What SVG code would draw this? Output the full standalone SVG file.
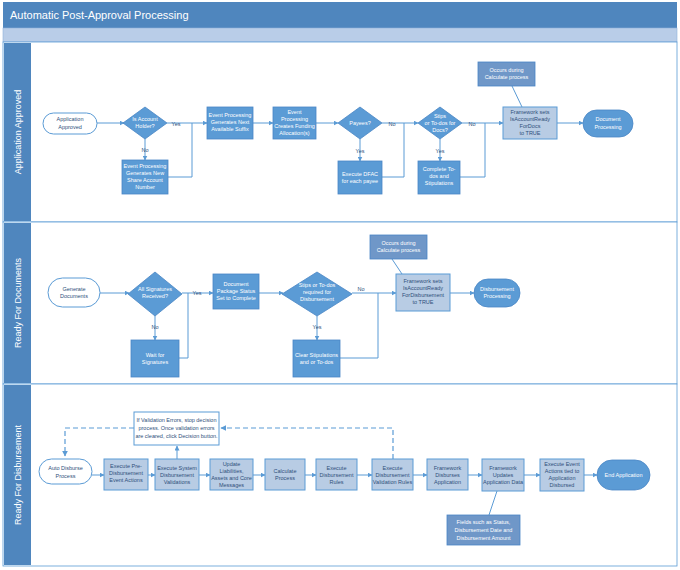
<svg xmlns="http://www.w3.org/2000/svg" width="680" height="570" viewBox="0 0 680 570">
<defs>
<marker id="a" viewBox="0 0 10 10" refX="9" refY="5" markerWidth="5" markerHeight="5" orient="auto"><path d="M0,0L10,5L0,10z" fill="#5b9bd5"/></marker>
<style>
text{font-family:"Liberation Sans",Arial,sans-serif;font-size:5.5px;text-anchor:middle}
.w{fill:#fff}.d{fill:#2f4f7a}
.b{fill:#5b9bd5;stroke:#4a86c5;stroke-width:0.8}
.l{fill:#b8cce4;stroke:#5b9bd5;stroke-width:1}
.m{fill:#6f97c8;stroke:#4a86c5;stroke-width:0.8}
.o{fill:#fff;stroke:#5b9bd5;stroke-width:1}
.c{fill:none;stroke:#5b9bd5;stroke-width:1}
.ca{fill:none;stroke:#5b9bd5;stroke-width:1;marker-end:url(#a)}
.dash{fill:none;stroke:#5b9bd5;stroke-width:1.2;stroke-dasharray:5,3}
.lane{fill:#fff;stroke:#5b9bd5;stroke-width:0.8}
.lt{font-size:9px;fill:#fff}
</style>
</defs>
<rect x="3" y="2" width="674" height="26" fill="#4f86be"/>
<text x="10" y="19" style="text-anchor:start;font-size:11px;fill:#fff">Automatic Post-Approval Processing</text>
<rect x="3" y="28" width="674" height="14" fill="#b9cde8" stroke="#8eb1da" stroke-width="0.6"/>
<rect x="3" y="42" width="674" height="180" class="lane"/>
<rect x="3" y="222" width="674" height="162" class="lane"/>
<rect x="3" y="384" width="674" height="182" class="lane"/>
<rect x="4" y="43" width="27" height="178" fill="#4f86be"/>
<rect x="4" y="223" width="27" height="160" fill="#4f86be"/>
<rect x="4" y="385" width="27" height="180" fill="#4f86be"/>
<text class="lt" transform="translate(21,132) rotate(-90)">Application Approved</text>
<text class="lt" transform="translate(21,303) rotate(-90)">Ready For Documents</text>
<text class="lt" transform="translate(21,475) rotate(-90)">Ready For Disbursement</text>

<g id="connectors">
<path class="ca" d="M97,123H124"/>
<path class="ca" d="M167,123H207"/>
<path class="ca" d="M145,139V160"/>
<path class="c" d="M168,177H192V123"/>
<path class="ca" d="M253,123H273"/>
<path class="ca" d="M316,123H338"/>
<path class="ca" d="M382,123H418"/>
<path class="ca" d="M360,139V161"/>
<path class="c" d="M382,177H404V123"/>
<path class="ca" d="M462,123H503"/>
<path class="ca" d="M440,139V161"/>
<path class="c" d="M460,177H485V123"/>
<path class="ca" d="M557,123H583"/>
<path class="c" d="M512,86L522,107"/>
<path class="ca" d="M100,293H129"/>
<path class="ca" d="M182,293H213"/>
<path class="ca" d="M155,316V340"/>
<path class="c" d="M179,358H188V293"/>
<path class="ca" d="M259,293H283"/>
<path class="ca" d="M352,293H396"/>
<path class="ca" d="M317,316V340"/>
<path class="c" d="M340,358H378V293"/>
<path class="ca" d="M450,293H474"/>
<path class="c" d="M392,259L402,274"/>
<path class="ca" d="M92,475H104"/>
<path class="ca" d="M148,475H155"/>
<path class="ca" d="M199,475H210"/>
<path class="ca" d="M253,475H265"/>
<path class="ca" d="M305,475H316"/>
<path class="ca" d="M357,475H372"/>
<path class="ca" d="M413,475H427"/>
<path class="ca" d="M468,475H482"/>
<path class="ca" d="M524,475H540"/>
<path class="ca" d="M584,475H597"/>
<path class="ca" d="M177,459V446"/>
<path class="dash" d="M134,428H65V456" marker-end="url(#a)"/>
<path class="dash" d="M393,459V428H221" marker-end="url(#a)"/>
<path class="c" d="M497,491L489,515"/>
</g>
<g>
<text x="176" y="126" class="d">Yes</text><text x="145" y="152" class="d">No</text>
<text x="392" y="126" class="d">No</text><text x="360" y="153" class="d">Yes</text>
<text x="472" y="126" class="d">No</text><text x="440" y="153" class="d">Yes</text>
<text x="197" y="295" class="d">Yes</text><text x="155" y="329" class="d">No</text>
<text x="361" y="291" class="d">No</text><text x="317" y="329" class="d">Yes</text>
</g>

<g id="n1"><rect x="43" y="113" width="54" height="21" rx="10.5" class="o"/><text x="70" y="121" class="d">Application</text><text x="70" y="129" class="d">Approved</text></g>
<g id="n2"><path d="M145,107L167,123L145,139L123,123z" class="b"/><text x="145" y="121" class="w">Is Account</text><text x="145" y="128" class="w">Holder?</text></g>
<g id="n3"><rect x="122" y="160" width="46" height="34" class="b"/><text x="145" y="168" class="w">Event Processing</text><text x="145" y="175" class="w">Generates New</text><text x="145" y="182" class="w">Share Account</text><text x="145" y="189" class="w">Number</text></g>
<g id="n4"><rect x="207" y="107" width="46" height="32" class="b"/><text x="230" y="117" class="w">Event Processing</text><text x="230" y="124" class="w">Generates Next</text><text x="230" y="131" class="w">Available Suffix</text></g>
<g id="n5"><rect x="273" y="107" width="43" height="32" class="b"/><text x="294.5" y="114" class="w">Event</text><text x="294.5" y="121" class="w">Processing</text><text x="294.5" y="128" class="w">Creates Funding</text><text x="294.5" y="135" class="w">Allocation(s)</text></g>
<g id="n6"><path d="M360,107L382,123L360,139L338,123z" class="b"/><text x="360" y="125" class="w">Payees?</text></g>
<g id="n7"><rect x="338" y="161" width="44" height="33" class="b"/><text x="360" y="176" class="w">Execute DFAC</text><text x="360" y="183" class="w">for each payee</text></g>
<g id="n8"><path d="M440,107L462,123L440,139L418,123z" class="b"/><text x="440" y="118" class="w">Stips</text><text x="440" y="125" class="w">or To-dos for</text><text x="440" y="132" class="w">Docs?</text></g>
<g id="n9"><rect x="418" y="161" width="42" height="33" class="b"/><text x="439" y="171" class="w">Complete To-</text><text x="439" y="178" class="w">dos and</text><text x="439" y="185" class="w">Stipulations</text></g>
<g id="n10"><rect x="478" y="62" width="57" height="24" class="m"/><text x="506.5" y="72" class="w">Occurs during</text><text x="506.5" y="79" class="w">Calculate process</text></g>
<g id="n11"><rect x="503" y="107" width="54" height="32" class="l"/><text x="530" y="114" class="d">Framework sets</text><text x="530" y="121" class="d">IsAccountReady</text><text x="530" y="128" class="d">ForDocs</text><text x="530" y="135" class="d">to TRUE</text></g>
<g id="n12"><rect x="583" y="110" width="50" height="27" rx="13.5" class="b"/><text x="608" y="121" class="w">Document</text><text x="608" y="129" class="w">Processing</text></g>

<g id="m1"><rect x="48" y="278" width="52" height="29" rx="14.5" class="o"/><text x="74" y="291" class="d">Generate</text><text x="74" y="298" class="d">Documents</text></g>
<g id="m2"><path d="M155,272L182,294L155,316L128,294z" class="b"/><text x="155" y="291" class="w">All Signatures</text><text x="155" y="298" class="w">Received?</text></g>
<g id="m3"><rect x="131" y="340" width="48" height="37" class="b"/><text x="155" y="357" class="w">Wait for</text><text x="155" y="364" class="w">Signatures</text></g>
<g id="m4"><rect x="213" y="274" width="46" height="35" class="b"/><text x="236" y="286" class="w">Document</text><text x="236" y="293" class="w">Package Status</text><text x="236" y="300" class="w">Set to Complete</text></g>
<g id="m5"><path d="M317,272L352,294L317,316L282,294z" class="b"/><text x="317" y="287" class="w">Stips or To-dos</text><text x="317" y="294" class="w">required for</text><text x="317" y="301" class="w">Disbursement</text></g>
<g id="m6"><rect x="293" y="340" width="47" height="37" class="b"/><text x="316.5" y="357" class="w">Clear Stipulations</text><text x="316.5" y="364" class="w">and or To-dos</text></g>
<g id="m7"><rect x="370" y="235" width="57" height="24" class="m"/><text x="398.5" y="245" class="w">Occurs during</text><text x="398.5" y="252" class="w">Calculate process</text></g>
<g id="m8"><rect x="396" y="274" width="54" height="37" class="l"/><text x="423" y="283" class="d">Framework sets</text><text x="423" y="290" class="d">IsAccountReady</text><text x="423" y="297" class="d">ForDisbursement</text><text x="423" y="304" class="d">to TRUE</text></g>
<g id="m9"><rect x="474" y="279" width="46" height="28" rx="14" class="b"/><text x="497" y="291" class="w">Disbursement</text><text x="497" y="298" class="w">Processing</text></g>

<g id="k0"><rect x="134" y="412" width="85" height="33" class="o"/><text x="176.5" y="422" class="d">If Validation Errors, stop decision</text><text x="176.5" y="430" class="d">process. Once validation errors</text><text x="176.5" y="438" class="d">are cleared, click Decision button.</text></g>
<g id="k1"><rect x="39" y="459" width="53" height="25" rx="12.5" class="o"/><text x="65.5" y="470" class="d">Auto Disburse</text><text x="65.5" y="478" class="d">Process</text></g>
<g id="k2"><rect x="104" y="459" width="44" height="31" class="l"/><text x="126" y="468" class="d">Execute Pre-</text><text x="126" y="475" class="d">Disbursement</text><text x="126" y="482" class="d">Event Actions</text></g>
<g id="k3"><rect x="155" y="459" width="44" height="31" class="l"/><text x="177" y="470" class="d">Execute System</text><text x="177" y="477" class="d">Disbursement</text><text x="177" y="484" class="d">Validations</text></g>
<g id="k4"><rect x="210" y="459" width="43" height="31" class="l"/><text x="231.5" y="466" class="d">Update</text><text x="231.5" y="473" class="d">Liabilities,</text><text x="231.5" y="480" class="d">Assets and Core</text><text x="231.5" y="487" class="d">Messages</text></g>
<g id="k5"><rect x="265" y="459" width="40" height="31" class="l"/><text x="285" y="473" class="d">Calculate</text><text x="285" y="480" class="d">Process</text></g>
<g id="k6"><rect x="316" y="459" width="41" height="31" class="l"/><text x="336.5" y="470" class="d">Execute</text><text x="336.5" y="477" class="d">Disbursement</text><text x="336.5" y="484" class="d">Rules</text></g>
<g id="k7"><rect x="372" y="459" width="41" height="31" class="l"/><text x="392.5" y="470" class="d">Execute</text><text x="392.5" y="477" class="d">Disbursement</text><text x="392.5" y="484" class="d">Validation Rules</text></g>
<g id="k8"><rect x="427" y="459" width="41" height="31" class="l"/><text x="447.5" y="470" class="d">Framework</text><text x="447.5" y="477" class="d">Disburses</text><text x="447.5" y="484" class="d">Application</text></g>
<g id="k9"><rect x="482" y="459" width="42" height="32" class="l"/><text x="503" y="470" class="d">Framework</text><text x="503" y="477" class="d">Updates</text><text x="503" y="484" class="d">Application Data</text></g>
<g id="k10"><rect x="540" y="459" width="44" height="32" class="l"/><text x="562" y="466" class="d">Execute Event</text><text x="562" y="473" class="d">Actions tied to</text><text x="562" y="480" class="d">Application</text><text x="562" y="487" class="d">Disbursed</text></g>
<g id="k11"><rect x="597" y="460" width="53" height="30" rx="15" class="b"/><text x="623.5" y="477" class="w">End Application</text></g>
<g id="k12"><rect x="447" y="515" width="73" height="30" class="m"/><text x="483.5" y="524" class="w">Fields such as Status,</text><text x="483.5" y="532" class="w">Disbursement Date and</text><text x="483.5" y="540" class="w">Disbursement Amount</text></g>
</svg>
